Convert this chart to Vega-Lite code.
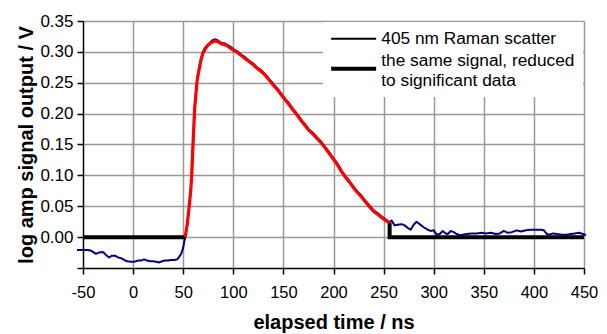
{
  "$schema": "https://vega.github.io/schema/vega-lite/v6.json",
  "width": 501,
  "height": 247,
  "autosize": {"type": "none"},
  "padding": {"left": 83, "top": 21, "right": 23, "bottom": 66},
  "background": "white",
  "config": {
    "view": {"stroke": null},
    "font": "Liberation Sans",
    "axis": {
      "grid": true,
      "gridColor": "#999999",
      "gridWidth": 1.5,
      "domainColor": "black",
      "domainWidth": 1.5,
      "tickColor": "black",
      "tickWidth": 1.5,
      "tickSize": 6,
      "labelColor": "black",
      "labelFont": "Liberation Sans",
      "labelOverlap": false,
      "labelFlush": false,
      "titleColor": "black",
      "titleFont": "Liberation Sans",
      "titleFontWeight": "bold",
      "titleFontSize": 20
    }
  },
  "datasets": {
    "raw": [
      {"t": -56, "v": -0.021}, {"t": -50, "v": -0.021}, {"t": -45, "v": -0.021}, {"t": -42, "v": -0.022},
      {"t": -39, "v": -0.025}, {"t": -37, "v": -0.027}, {"t": -34, "v": -0.025}, {"t": -30, "v": -0.024},
      {"t": -27, "v": -0.029}, {"t": -24, "v": -0.033}, {"t": -21, "v": -0.030}, {"t": -18, "v": -0.030},
      {"t": -15, "v": -0.033}, {"t": -12, "v": -0.034}, {"t": -9, "v": -0.037}, {"t": -6, "v": -0.039},
      {"t": -2, "v": -0.040}, {"t": 1, "v": -0.040}, {"t": 5, "v": -0.038}, {"t": 8, "v": -0.038},
      {"t": 11, "v": -0.036}, {"t": 14, "v": -0.038}, {"t": 17, "v": -0.039}, {"t": 20, "v": -0.039},
      {"t": 23, "v": -0.040}, {"t": 26, "v": -0.041}, {"t": 29, "v": -0.039}, {"t": 32, "v": -0.038},
      {"t": 35, "v": -0.038}, {"t": 38, "v": -0.037}, {"t": 41, "v": -0.037}, {"t": 44, "v": -0.036},
      {"t": 46, "v": -0.032}, {"t": 48, "v": -0.027}, {"t": 50, "v": -0.017}, {"t": 51, "v": -0.008},
      {"t": 52, "v": 0.0}, {"t": 54, "v": 0.02}, {"t": 56, "v": 0.05}, {"t": 57.5, "v": 0.075},
      {"t": 58.5, "v": 0.1}, {"t": 59.5, "v": 0.14}, {"t": 60.5, "v": 0.175}, {"t": 61.5, "v": 0.21},
      {"t": 62.5, "v": 0.229}, {"t": 64, "v": 0.256}, {"t": 65.5, "v": 0.27}, {"t": 67.5, "v": 0.287},
      {"t": 69.5, "v": 0.299}, {"t": 72, "v": 0.307}, {"t": 75, "v": 0.3125}, {"t": 78, "v": 0.317},
      {"t": 80, "v": 0.3195}, {"t": 82, "v": 0.3205}, {"t": 85, "v": 0.318}, {"t": 88, "v": 0.3145},
      {"t": 91, "v": 0.314}, {"t": 94, "v": 0.3115}, {"t": 97, "v": 0.3085}, {"t": 100, "v": 0.3045},
      {"t": 104, "v": 0.301}, {"t": 108, "v": 0.2955}, {"t": 112, "v": 0.291}, {"t": 116, "v": 0.2855},
      {"t": 120, "v": 0.281}, {"t": 124, "v": 0.2745}, {"t": 128, "v": 0.270}, {"t": 132, "v": 0.2635},
      {"t": 136, "v": 0.2555}, {"t": 140, "v": 0.248}, {"t": 144, "v": 0.2405}, {"t": 148, "v": 0.232},
      {"t": 152, "v": 0.2235}, {"t": 156, "v": 0.216}, {"t": 160, "v": 0.2065}, {"t": 164, "v": 0.199},
      {"t": 168, "v": 0.1895}, {"t": 172, "v": 0.182}, {"t": 176, "v": 0.1735}, {"t": 180, "v": 0.168},
      {"t": 184, "v": 0.1605}, {"t": 188, "v": 0.154}, {"t": 192, "v": 0.1455}, {"t": 196, "v": 0.137},
      {"t": 200, "v": 0.1275}, {"t": 204, "v": 0.119}, {"t": 208, "v": 0.1075}, {"t": 212, "v": 0.099},
      {"t": 216, "v": 0.0905}, {"t": 220, "v": 0.082}, {"t": 224, "v": 0.0735}, {"t": 228, "v": 0.067},
      {"t": 232, "v": 0.0585}, {"t": 236, "v": 0.051}, {"t": 240, "v": 0.0435}, {"t": 244, "v": 0.039},
      {"t": 248, "v": 0.0335}, {"t": 252, "v": 0.029}, {"t": 256, "v": 0.024},
      {"t": 258, "v": 0.027}, {"t": 261, "v": 0.019}, {"t": 264, "v": 0.020}, {"t": 268, "v": 0.021},
      {"t": 271, "v": 0.019}, {"t": 274, "v": 0.015}, {"t": 277, "v": 0.012}, {"t": 280, "v": 0.020},
      {"t": 283, "v": 0.025}, {"t": 286, "v": 0.021}, {"t": 290, "v": 0.016}, {"t": 294, "v": 0.012},
      {"t": 297, "v": 0.010}, {"t": 300, "v": 0.011}, {"t": 303, "v": 0.004}, {"t": 306, "v": 0.005},
      {"t": 309, "v": 0.010}, {"t": 312, "v": 0.006}, {"t": 314, "v": 0.005}, {"t": 317, "v": 0.010},
      {"t": 320, "v": 0.008}, {"t": 323, "v": 0.005}, {"t": 326, "v": 0.003}, {"t": 329, "v": 0.004},
      {"t": 333, "v": 0.005}, {"t": 338, "v": 0.006}, {"t": 343, "v": 0.006}, {"t": 348, "v": 0.007},
      {"t": 352, "v": 0.006}, {"t": 357, "v": 0.007}, {"t": 362, "v": 0.005}, {"t": 366, "v": 0.006},
      {"t": 370, "v": 0.010}, {"t": 374, "v": 0.007}, {"t": 378, "v": 0.008}, {"t": 383, "v": 0.011},
      {"t": 387, "v": 0.009}, {"t": 392, "v": 0.011}, {"t": 397, "v": 0.012}, {"t": 402, "v": 0.012},
      {"t": 407, "v": 0.012}, {"t": 410, "v": 0.011}, {"t": 413, "v": 0.005}, {"t": 416, "v": 0.004},
      {"t": 419, "v": 0.006}, {"t": 423, "v": 0.005}, {"t": 428, "v": 0.004}, {"t": 433, "v": 0.004},
      {"t": 437, "v": 0.005}, {"t": 441, "v": 0.006}, {"t": 445, "v": 0.007}, {"t": 449, "v": 0.005},
      {"t": 452, "v": 0.003}
    ],
    "reduced": [
      {"part": "pre", "t": -50, "v": 0}, {"part": "pre", "t": 52, "v": 0},
      {"part": "signal", "t": 52, "v": 0.0}, {"part": "signal", "t": 54, "v": 0.02}, {"part": "signal", "t": 56, "v": 0.05},
      {"part": "signal", "t": 57.5, "v": 0.075}, {"part": "signal", "t": 58.5, "v": 0.1}, {"part": "signal", "t": 59.5, "v": 0.14},
      {"part": "signal", "t": 60.5, "v": 0.175}, {"part": "signal", "t": 61.5, "v": 0.21}, {"part": "signal", "t": 62.5, "v": 0.228},
      {"part": "signal", "t": 64, "v": 0.255}, {"part": "signal", "t": 65.5, "v": 0.268}, {"part": "signal", "t": 67.5, "v": 0.285},
      {"part": "signal", "t": 69.5, "v": 0.297}, {"part": "signal", "t": 72, "v": 0.305}, {"part": "signal", "t": 75, "v": 0.311},
      {"part": "signal", "t": 78, "v": 0.315}, {"part": "signal", "t": 82, "v": 0.318}, {"part": "signal", "t": 85, "v": 0.316},
      {"part": "signal", "t": 88, "v": 0.313}, {"part": "signal", "t": 91, "v": 0.312}, {"part": "signal", "t": 94, "v": 0.310},
      {"part": "signal", "t": 97, "v": 0.306}, {"part": "signal", "t": 100, "v": 0.303}, {"part": "signal", "t": 104, "v": 0.299},
      {"part": "signal", "t": 108, "v": 0.294}, {"part": "signal", "t": 112, "v": 0.289}, {"part": "signal", "t": 116, "v": 0.284},
      {"part": "signal", "t": 120, "v": 0.279}, {"part": "signal", "t": 124, "v": 0.273}, {"part": "signal", "t": 128, "v": 0.268},
      {"part": "signal", "t": 132, "v": 0.262}, {"part": "signal", "t": 136, "v": 0.254}, {"part": "signal", "t": 140, "v": 0.246},
      {"part": "signal", "t": 144, "v": 0.239}, {"part": "signal", "t": 148, "v": 0.230}, {"part": "signal", "t": 152, "v": 0.222},
      {"part": "signal", "t": 156, "v": 0.214}, {"part": "signal", "t": 160, "v": 0.205}, {"part": "signal", "t": 164, "v": 0.197},
      {"part": "signal", "t": 168, "v": 0.188}, {"part": "signal", "t": 172, "v": 0.180}, {"part": "signal", "t": 176, "v": 0.172},
      {"part": "signal", "t": 180, "v": 0.166}, {"part": "signal", "t": 184, "v": 0.159}, {"part": "signal", "t": 188, "v": 0.152},
      {"part": "signal", "t": 192, "v": 0.144}, {"part": "signal", "t": 196, "v": 0.135}, {"part": "signal", "t": 200, "v": 0.126},
      {"part": "signal", "t": 204, "v": 0.117}, {"part": "signal", "t": 208, "v": 0.106}, {"part": "signal", "t": 212, "v": 0.097},
      {"part": "signal", "t": 216, "v": 0.089}, {"part": "signal", "t": 220, "v": 0.080}, {"part": "signal", "t": 224, "v": 0.072},
      {"part": "signal", "t": 228, "v": 0.065}, {"part": "signal", "t": 232, "v": 0.057}, {"part": "signal", "t": 236, "v": 0.049},
      {"part": "signal", "t": 240, "v": 0.042}, {"part": "signal", "t": 244, "v": 0.037}, {"part": "signal", "t": 248, "v": 0.032},
      {"part": "signal", "t": 252, "v": 0.027}, {"part": "signal", "t": 256, "v": 0.023},
      {"part": "post", "t": 256, "v": 0.023}, {"part": "post", "t": 256, "v": 0}, {"part": "post", "t": 450, "v": 0}
    ]
  },
  "encoding": {
    "x": {
      "field": "t",
      "type": "quantitative",
      "scale": {"domain": [-50, 450], "nice": false, "zero": false},
      "axis": {
        "title": "elapsed time / ns",
        "values": [-50, 0, 50, 100, 150, 200, 250, 300, 350, 400, 450],
        "labelExpr": "'' + datum.value",
        "labelFontSize": 16.5,
        "labelPadding": 10,
        "titlePadding": 12,
        "gridOpacity": {"condition": {"test": "datum.value < -49", "value": 0}, "value": 1}
      }
    },
    "y": {
      "field": "v",
      "type": "quantitative",
      "scale": {"domain": [-0.05, 0.35], "nice": false, "zero": false},
      "axis": {
        "title": "log amp signal output / V",
        "values": [-0.05, 0, 0.05, 0.1, 0.15, 0.2, 0.25, 0.3, 0.35],
        "labelExpr": "datum.value < -0.01 ? '' : format(datum.value, '.2f')",
        "labelFontSize": 17,
        "labelPadding": 4,
        "titlePadding": 3,
        "gridOpacity": {"condition": {"test": "datum.value < -0.01", "value": 0}, "value": 1}
      }
    }
  },
  "layer": [
    {
      "data": {"name": "raw"},
      "mark": {"type": "line", "color": "#000080", "clip": false, "strokeJoin": "round"},
      "encoding": {
        "strokeWidth": {
          "datum": "405 nm Raman scatter",
          "type": "ordinal",
          "scale": {"domain": ["405 nm Raman scatter", "the same signal, reduced|to significant data"], "range": [2, 4]},
          "legend": {
            "title": null,
            "orient": "top-right",
            "offset": 1,
            "padding": 8,
            "fillColor": "white",
            "symbolType": "M-4.5,0H4.5",
            "symbolSize": 100,
            "symbolStrokeColor": "black",
            "symbolFillColor": "transparent",
            "symbolOffset": 14,
            "labelOffset": 19,
            "labelFont": "Liberation Sans",
            "labelFontSize": 17.3,
            "labelColor": "black",
            "labelLimit": 400,
            "rowPadding": 4,
            "labelExpr": "split(datum.label, '|')",
            "encode": {
              "symbols": {"update": {"stroke": {"value": "black"}}},
              "labels": {"update": {"lineHeight": {"value": 20}, "dy": {"signal": "datum.index === 1 ? -8 : 0"}}}
            }
          }
        }
      }
    },
    {
      "data": {"name": "reduced"},
      "transform": [{"filter": "datum.part != 'signal'"}],
      "mark": {"type": "line", "color": "black", "strokeCap": "butt"},
      "encoding": {
        "detail": {"field": "part"},
        "strokeWidth": {"datum": "the same signal, reduced|to significant data", "type": "ordinal"}
      }
    },
    {
      "data": {"name": "reduced"},
      "transform": [{"filter": "datum.part == 'signal'"}],
      "mark": {"type": "line", "color": "#ff0000", "strokeWidth": 3.2, "strokeJoin": "round"}
    }
  ]
}
